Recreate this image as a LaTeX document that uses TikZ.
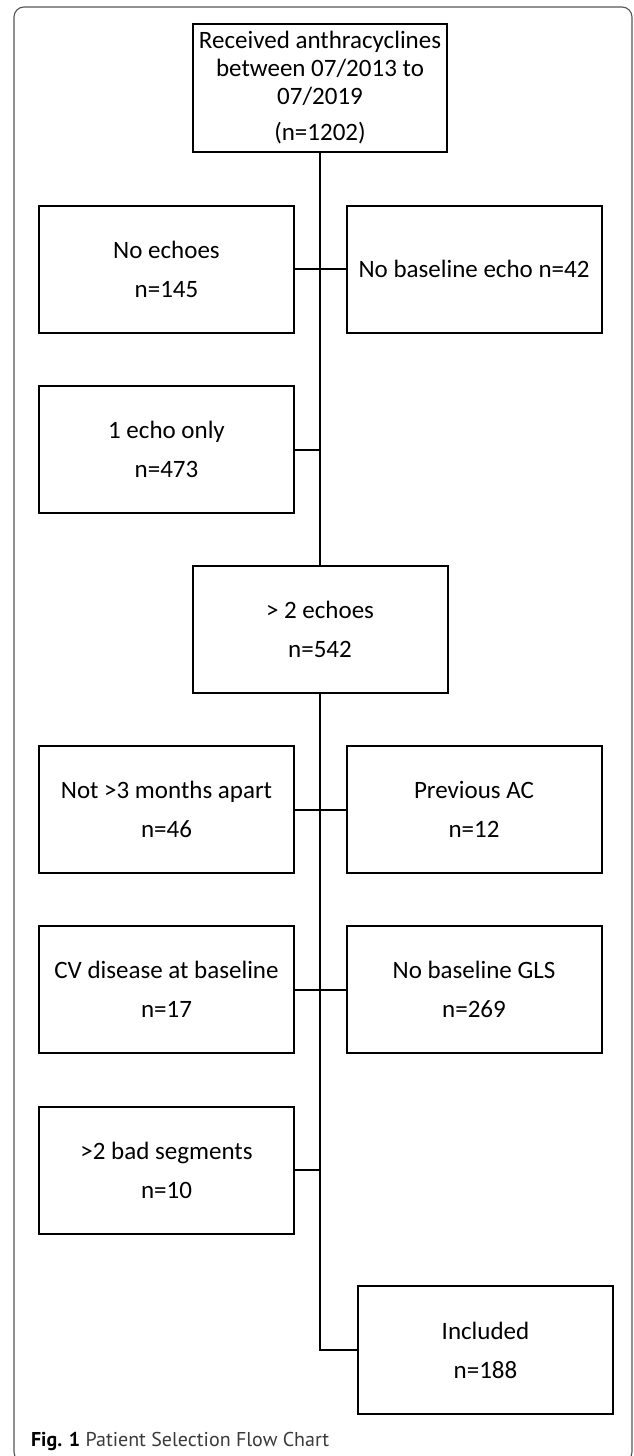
\documentclass[tikz,border=0pt]{standalone}
\usepackage{fontspec}
\setmainfont{Carlito}
\newfontfamily\capfont{PT Sans}
\usetikzlibrary{positioning}
\definecolor{FrameGray}{HTML}{555555}
\definecolor{CapGray}{HTML}{3A3A3A}

\begin{document}
\begin{tikzpicture}[x=1pt,y=1pt,on grid,line width=2pt]
      \tikzstyle{box}=[draw,align=center,minimum width=255pt,minimum height=127pt,inner sep=0pt,font=\fontsize{25}{28}\selectfont]
      \path[use as bounding box,clip] (0,0) rectangle (633,-1456);
      \draw[line width=1.1pt,FrameGray,rounded corners=10pt] (14,-7) rectangle (632,-1462);
      \node[box,minimum width=254pt,minimum height=128pt] (start) at (320,-88) {Received anthracyclines\\between 07/2013 to\\07/2019\\[8pt](n=1202)};
      \node[box,below left=181pt and 153.5pt of start] (noecho) {No echoes\\[11pt]n=145};
      \node[box,below right=181pt and 154pt of start] (nobase) {No baseline echo n=42};
      \node[box,below=180.5pt of noecho] (oneecho) {1 echo only\\[11pt]n=473};
      \node[box,below right=180pt and 153.5pt of oneecho] (twoecho) {> 2 echoes\\[11pt]n=542};
      \node[box,below left=180pt and 153.5pt of twoecho] (notapart) {Not >3 months apart\\[11pt]n=46};
      \node[box,below right=180pt and 154pt of twoecho] (prevac) {Previous AC\\[11pt]n=12};
      \node[box,below=180pt of notapart] (cvdis) {CV disease at baseline\\[11pt]n=17};
      \node[box,below=180pt of prevac] (nogls) {No baseline GLS\\[11pt]n=269};
      \node[box,below=180.5pt of cvdis] (badseg) {>2 bad segments\\[11pt]n=10};
      \node[box,minimum height=128pt,below right=180pt and 319pt of badseg] (incl) {Included\\[11pt]n=188};
      \node[anchor=base west,font=\capfont\fontsize{20}{22}\selectfont,text=CapGray,inner sep=0pt] (caption) at (30,-1446) {\textbf{\color{black}Fig. 1} Patient Selection Flow Chart};
      \draw (start) -- (twoecho);
      \draw (twoecho) |- (incl);
      \draw (noecho) -- (nobase);
      \draw (oneecho) -- (oneecho -| twoecho);
      \draw (notapart) -- (prevac);
      \draw (cvdis) -- (nogls);
      \draw (badseg) -- (badseg -| twoecho);
    \end{tikzpicture}
\end{document}
